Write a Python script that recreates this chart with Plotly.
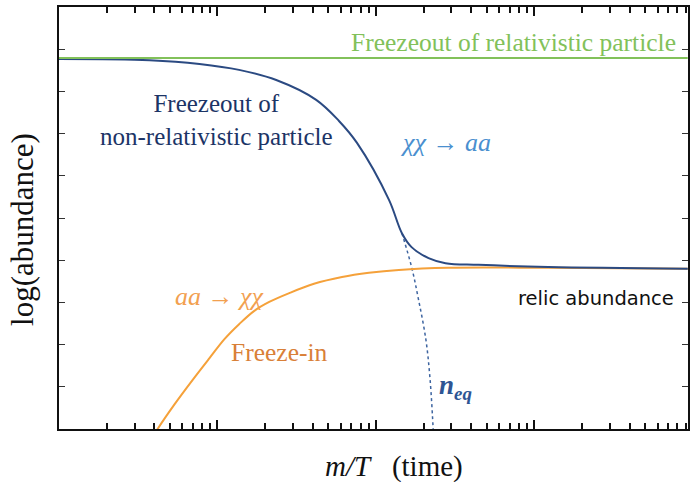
import plotly.graph_objects as go

# m/T values (log axis) and log(abundance) values for each curve
nonrel_x = [1.0, 3.73, 7.7, 13.7, 23.5, 42.0, 58.5, 76.0, 121.0, 146.0, 168.0, 215.0, 275.0, 444.0, 1225.0, 9300.0]
nonrel_y = [8.77, 8.74, 8.65, 8.51, 8.27, 7.80, 7.30, 6.78, 5.43, 4.64, 4.31, 4.05, 3.93, 3.89, 3.84, 3.80]

freezein_x = [3.73, 4.19, 5.37, 6.96, 8.91, 11.07, 13.75, 17.09, 21.23, 28.4, 40.7, 61.1,
              90.4, 139.6, 288.0, 1225.0, 9300.0]
freezein_y = [-0.31, 0.0, 0.59, 1.16, 1.68, 2.13, 2.49, 2.80, 3.01, 3.22, 3.44, 3.60,
              3.70, 3.77, 3.82, 3.82, 3.80]

neq_x = [146.0, 168.0, 186.0, 207.0, 220.0, 230.0, 232.0]
neq_y = [4.64, 3.84, 3.06, 2.11, 1.16, 0.0, -0.26]

rel_x = [1.0, 9300.0]
rel_y = [8.79, 8.79]

# tick positions on the log axis: decades and the 2..9 in between
major_ticks = [10, 100, 1000]
minor_ticks = [m * 10 ** d for d in range(4) for m in range(2, 10)]
all_ticks = major_ticks + minor_ticks

GREEN = "#82c15a"
NAVY = "#2b4a82"
ORANGE = "#f5a13a"
SERIF = "Liberation Serif"
TICK = "#111111"

fig = go.Figure()
fig.add_trace(go.Scatter(x=rel_x, y=rel_y, mode="lines", xaxis="x2",
                         line=dict(color=GREEN, width=2)))
fig.add_trace(go.Scatter(x=neq_x, y=neq_y, mode="lines", line_shape="spline",
                         line=dict(color="#3d64a0", width=1.5, dash="dot")))
fig.add_trace(go.Scatter(x=freezein_x, y=freezein_y, mode="lines", line_shape="spline",
                         line=dict(color=ORANGE, width=2)))
fig.add_trace(go.Scatter(x=nonrel_x, y=nonrel_y, mode="lines", line_shape="spline",
                         line=dict(color=NAVY, width=2)))

def label(text, x, y, color, size, family=SERIF, **kw):
    fig.add_annotation(text=text, xref="paper", yref="paper", x=x, y=y,
                       xanchor="center", yanchor="middle", showarrow=False,
                       font=dict(family=family, size=size, color=color), **kw)

label("Freezeout of relativistic particle", 0.723, 0.915, GREEN, 25.5)
label("Freezeout of<br>non-relativistic particle", 0.250, 0.732, "#1c3466", 25)
label("<i>χχ</i> → <i>aa</i>", 0.615, 0.678, "#4a8fcf", 26)
label("<i>aa</i> → <i>χχ</i>", 0.254, 0.313, "#f2a050", 26)
label("Freeze-in", 0.350, 0.182, "#d98038", 25.5)
label("<b><i>n</i><sub><i>eq</i></sub></b>", 0.630, 0.10, "#2e5594", 27)
label("relic abundance", 0.853, 0.310, "#111111", 19.5, family="DejaVu Sans")
label("log(abundance)", -0.057, 0.472, "#111111", 31, textangle=-90)
label("<i>m/T</i>\u00a0\u00a0\u00a0(time)", 0.532, -0.090, "#111111", 29)

common_x = dict(type="log", range=[0, 3.97], showgrid=False, zeroline=False,
                tickcolor=TICK, tickwidth=1.5, tickmode="array", mirror="ticks",
                ticks="inside", showticklabels=False)
# every tick of the log axis, short
fig.update_layout(xaxis=dict(**common_x, showline=True, linecolor="#111111", linewidth=2,
                             ticklen=6, tickvals=all_ticks))
# decade ticks drawn longer on an overlaid copy of the axis
fig.update_layout(xaxis2=dict(**common_x, overlaying="x", side="bottom", anchor="y",
                              showline=False, ticklen=9, tickvals=major_ticks))
fig.update_yaxes(range=[0, 10], showline=True, linecolor="#111111", linewidth=2,
                 mirror="ticks", ticks="inside", ticklen=6, tickcolor="#333333",
                 tickwidth=1, tickmode="linear", tick0=0, dtick=1,
                 showticklabels=False, showgrid=False, zeroline=False)

fig.update_layout(width=690, height=482, showlegend=False,
                  font=dict(family=SERIF, color="#111111"),
                  margin=dict(l=59, r=0, t=7, b=53),
                  paper_bgcolor="white", plot_bgcolor="white")

fig.write_html("out.html")
